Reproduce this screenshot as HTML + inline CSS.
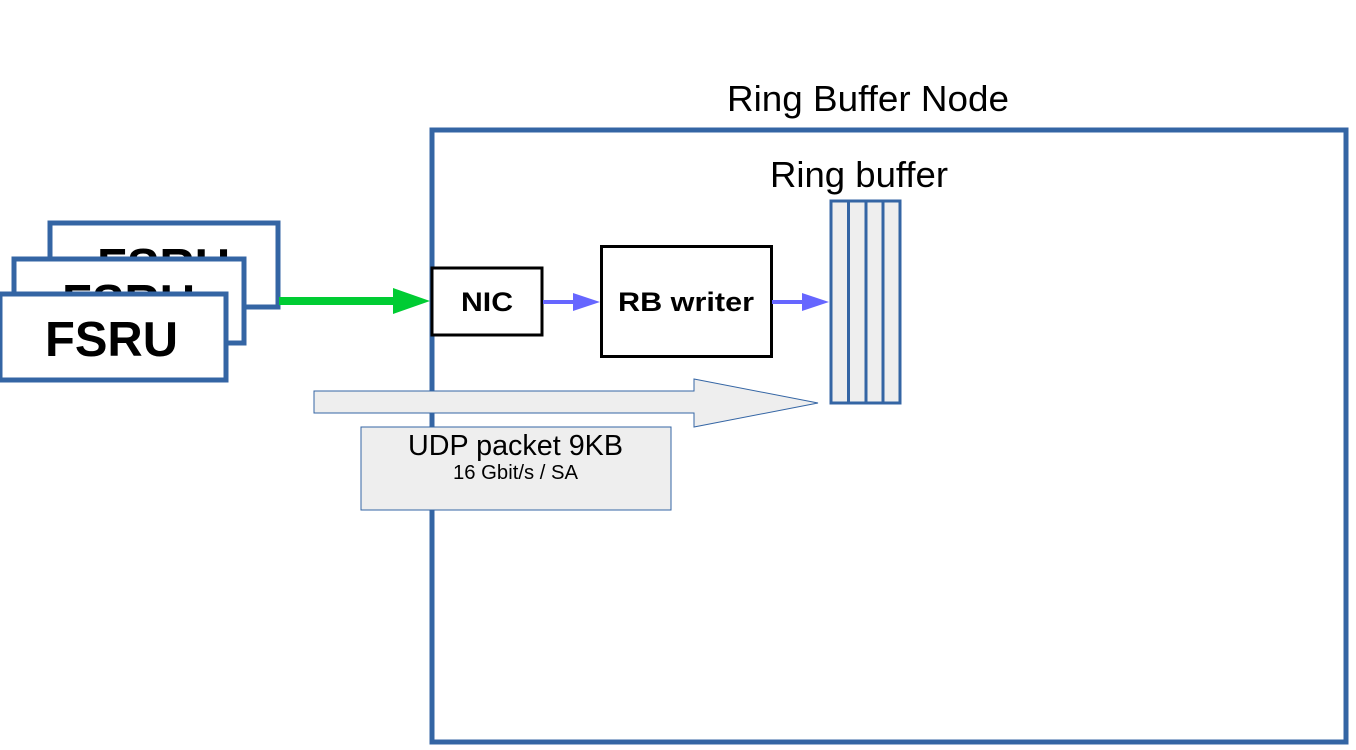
<!DOCTYPE html>
<html><head><meta charset="utf-8"><style>
html,body{margin:0;padding:0;background:#fff;}
svg{display:block;font-family:"Liberation Sans",sans-serif;}
</style></head><body>
<svg width="1356" height="750" viewBox="0 0 1356 750" xmlns="http://www.w3.org/2000/svg">
<rect x="432" y="130" width="914" height="612" fill="none" stroke="#3465a4" stroke-width="5"/>
<text x="727" y="111" font-size="36" textLength="282" lengthAdjust="spacingAndGlyphs" fill="#000">Ring Buffer Node</text>
<text x="770" y="187" font-size="36" textLength="178" lengthAdjust="spacingAndGlyphs" fill="#000">Ring buffer</text>
<rect x="831" y="201" width="69" height="202" fill="#eeeeee" stroke="#3465a4" stroke-width="3"/>
<line x1="848.5" y1="201" x2="848.5" y2="403" stroke="#3465a4" stroke-width="3"/>
<line x1="866" y1="201" x2="866" y2="403" stroke="#3465a4" stroke-width="3"/>
<line x1="883" y1="201" x2="883" y2="403" stroke="#3465a4" stroke-width="3"/>
<rect x="50" y="223" width="228" height="84" fill="#fff" stroke="#3465a4" stroke-width="5"/>
<text x="97" y="283" font-size="49" font-weight="bold" textLength="133" lengthAdjust="spacingAndGlyphs">FSRU</text>
<rect x="14" y="259" width="230" height="84" fill="#fff" stroke="#3465a4" stroke-width="5"/>
<text x="62" y="319" font-size="49" font-weight="bold" textLength="133" lengthAdjust="spacingAndGlyphs">FSRU</text>
<rect x="0" y="294" width="226" height="86" fill="#fff" stroke="#3465a4" stroke-width="5"/>
<text x="45" y="356" font-size="49" font-weight="bold" textLength="133" lengthAdjust="spacingAndGlyphs">FSRU</text>
<line x1="279" y1="301" x2="396" y2="301" stroke="#00cc33" stroke-width="8"/>
<polygon points="393,288 430,301 393,314" fill="#00cc33"/>
<rect x="432" y="268" width="110" height="67" fill="#fff" stroke="#000" stroke-width="3"/>
<text x="461" y="311" font-size="27" font-weight="bold" textLength="52" lengthAdjust="spacingAndGlyphs">NIC</text>
<rect x="601.5" y="246.5" width="170" height="110" fill="#fff" stroke="#000" stroke-width="3"/>
<text x="618" y="311" font-size="27" font-weight="bold" textLength="136" lengthAdjust="spacingAndGlyphs">RB writer</text>
<line x1="543" y1="302" x2="576" y2="302" stroke="#6666ff" stroke-width="4"/>
<polygon points="573,293 600,302 573,311" fill="#6666ff"/>
<line x1="772" y1="302" x2="805" y2="302" stroke="#6666ff" stroke-width="4"/>
<polygon points="802,293 829,302 802,311" fill="#6666ff"/>
<polygon points="314,391 694,391 694,379 818,403 694,427 694,413 314,413" fill="#eeeeee" stroke="#3465a4" stroke-width="1"/>
<rect x="361" y="427" width="310" height="83" fill="#eeeeee" stroke="#3465a4" stroke-width="1"/>
<text x="408" y="455" font-size="29" textLength="215" lengthAdjust="spacingAndGlyphs">UDP packet 9KB</text>
<text x="453" y="479" font-size="20" textLength="125" lengthAdjust="spacingAndGlyphs">16 Gbit/s / SA</text>
</svg>
</body></html>
